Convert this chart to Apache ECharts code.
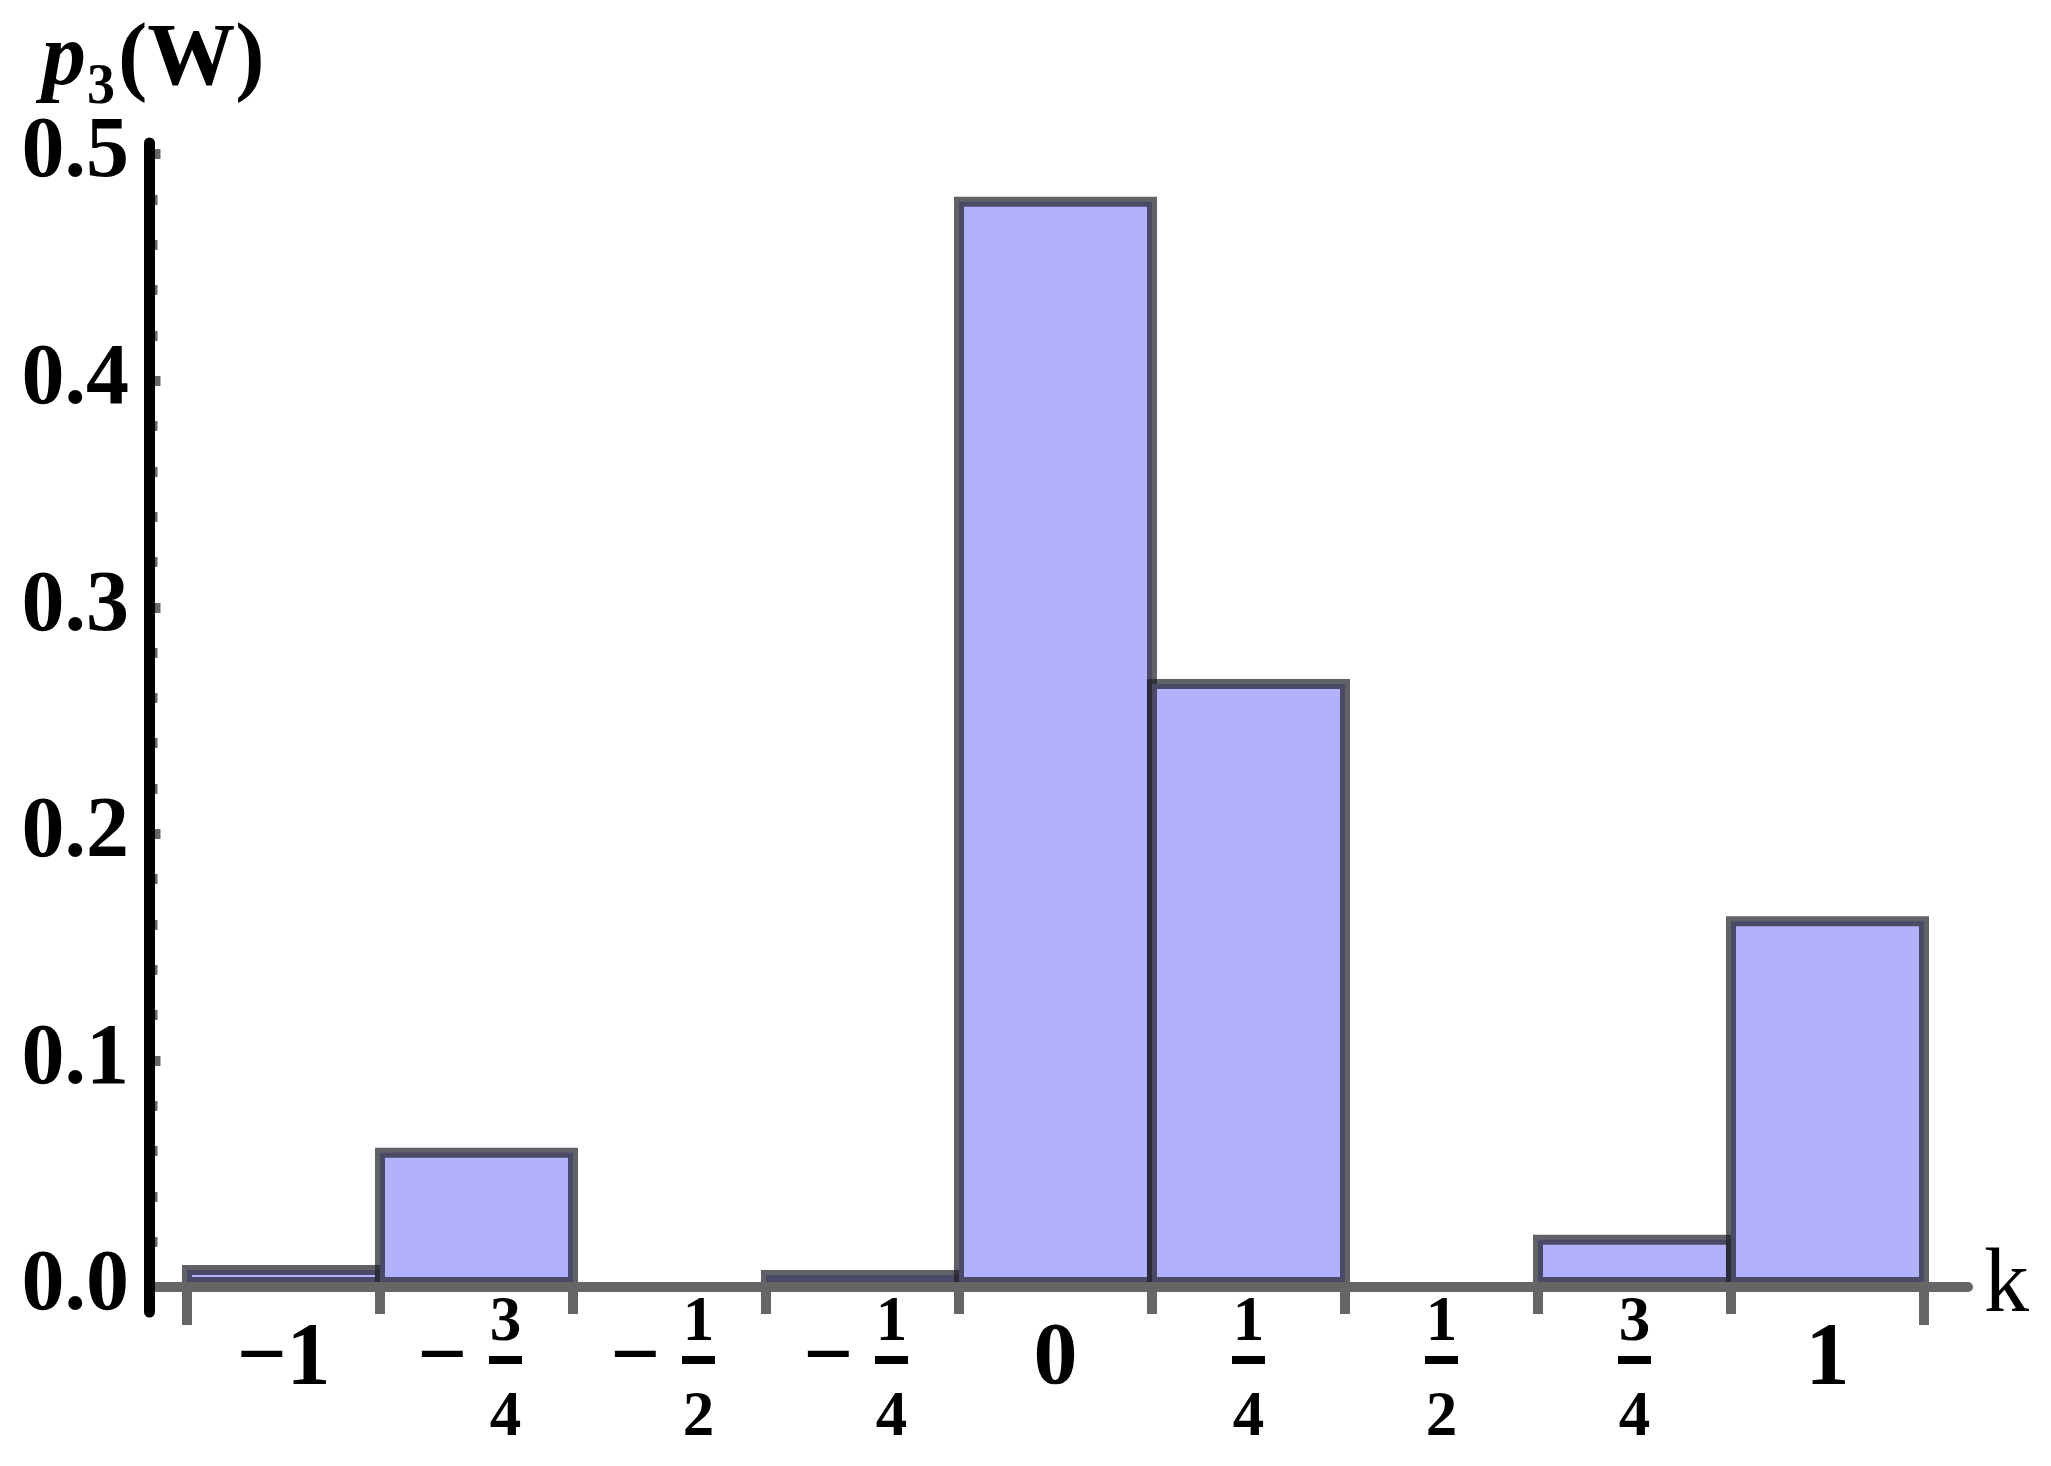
<!DOCTYPE html>
<html>
<head>
<meta charset="utf-8">
<script src="https://cdn.jsdelivr.net/npm/echarts@6/dist/echarts.min.js"></script>
<style>
html, body { margin: 0; padding: 0; background: #ffffff; }
#chart { width: 2051px; height: 1466px; }
</style>
</head>
<body>
<div id="chart"></div>
<script>
// ---- data ----
const kValues = [-1, -0.75, -0.5, -0.25, 0, 0.25, 0.5, 0.75, 1];
const probabilities = [0.0097, 0.0615, 0, 0.0075, 0.4812, 0.2683, 0, 0.0231, 0.1637];
const binWidth = 0.25;
// tick labels of k: sign, numerator, denominator (denominator 1 = whole number)
const kLabelSign = ['\u2212', '\u2212', '\u2212', '\u2212', '', '', '', '', ''];
const kLabelNum = [1, 3, 1, 1, 0, 1, 1, 3, 1];
const kLabelDen = [1, 4, 2, 4, 1, 4, 2, 4, 1];
const yTickValues = [0, 0.1, 0.2, 0.3, 0.4, 0.5];
const yMinorPerMajor = 5;

// ---- derived helpers ----
const binEdges = kValues.map(k => k - binWidth / 2).concat([kValues[kValues.length - 1] + binWidth / 2]);
const innerEdges = binEdges.slice(1, -1);
const outerEdges = [binEdges[0], binEdges[binEdges.length - 1]];
const yMinorValues = [];
for (let i = 0; i < yTickValues.length - 1; i++) {
  const step = (yTickValues[i + 1] - yTickValues[i]) / yMinorPerMajor;
  for (let j = 1; j < yMinorPerMajor; j++) yMinorValues.push(yTickValues[i] + j * step);
}

const FONT = 'Liberation Serif';

function kLabel(v) {
  const i = kValues.findIndex(k => Math.abs(k - v) < 1e-9);
  if (i < 0) return '';
  const s = kLabelSign[i], n = kLabelNum[i], d = kLabelDen[i];
  if (d === 1) return '{e1| }\n{i|' + s + n + '}\n{e3| }';
  if (s) {
    return '{sp| }{g| }{n1|' + n + '}{pad| }\n' +
           '{m|' + s + '}{g| }{fb| }{pad| }\n' +
           '{sp| }{g| }{n3|' + d + '}{pad| }';
  }
  return '{n1|' + n + '}\n{fb| }\n{n3|' + d + '}';
}

const GRID_LEFT = 149, GRID_RIGHT = 83, CHART_W = 2051;
const BORDER = 10;
const xMin = binEdges[0] - 0.0492;
const xMax = binEdges[binEdges.length - 1] + 0.057;
const yMin = -0.011;
const yMax = 0.5049;
const pxPerUnit = (CHART_W - GRID_LEFT - GRID_RIGHT) / (xMax - xMin);

const chart = echarts.init(document.getElementById('chart'), null, { renderer: 'canvas' });

const option = {
  animation: false,
  backgroundColor: '#ffffff',
  title: {
    text: '{p|p}{s|3}{n|(}{w|W}{n|)}',
    left: 42,
    top: 11,
    padding: 0,
    textStyle: {
      rich: {
        p: { fontFamily: FONT, fontStyle: 'italic', fontWeight: 'bold', fontSize: 88, lineHeight: 100, color: '#000' },
        s: { fontFamily: FONT, fontSize: 56, lineHeight: 100, color: '#000', padding: [56, 3, 0, 1] },
        n: { fontFamily: FONT, fontSize: 88, lineHeight: 100, color: '#000' },
        w: { fontFamily: FONT, fontWeight: 'bold', fontSize: 88, lineHeight: 100, color: '#000' }
      }
    }
  },
  grid: {
    left: GRID_LEFT,
    right: GRID_RIGHT,
    top: 143,
    bottom: 154,
    containLabel: false,
    outerBoundsMode: 'none'
  },
  xAxis: [
    {
      type: 'value',
      min: xMin,
      max: xMax,
      position: 'bottom',
      z: 3,
      name: 'k',
      nameLocation: 'end',
      nameGap: 16,
      nameTextStyle: { fontFamily: FONT, fontSize: 90, color: '#000', verticalAlign: 'middle', align: 'left', padding: [12, 0, 0, 0] },
      axisLine: { show: true, onZero: true, lineStyle: { color: '#666666', width: 10 } },
      axisTick: { show: true, customValues: innerEdges, length: 27, lineStyle: { color: '#666666', width: 10 } },
      splitLine: { show: false },
      axisLabel: {
        customValues: kValues,
        formatter: kLabel,
        margin: -11,
        lineHeight: 10,
        color: '#000',
        rich: {
          e1: { lineHeight: 46 },
          e3: { lineHeight: 92 },
          i: { fontFamily: FONT, fontWeight: 'bold', fontSize: 88, lineHeight: 26, color: '#000' },
          m: { fontFamily: FONT, fontWeight: 'bold', fontSize: 88, lineHeight: 26, width: 46, color: '#000' },
          n1: { fontFamily: FONT, fontWeight: 'bold', fontSize: 63, lineHeight: 46, width: 33, color: '#000' },
          n3: { fontFamily: FONT, fontWeight: 'bold', fontSize: 63, lineHeight: 92, width: 33, color: '#000' },
          fb: { width: 33, height: 8, lineHeight: 26, backgroundColor: '#000' },
          sp: { width: 46, lineHeight: 10 },
          g: { width: 24, lineHeight: 10 },
          pad: { width: 12, lineHeight: 10 }
        }
      }
    },
    {
      type: 'value',
      min: xMin,
      max: xMax,
      position: 'bottom',
      z: 3,
      axisLine: { show: false, onZero: true },
      axisTick: { show: true, customValues: outerEdges, length: 38, lineStyle: { color: '#666666', width: 10 } },
      splitLine: { show: false },
      axisLabel: { show: false }
    }
  ],
  yAxis: [
    {
      type: 'value',
      min: yMin,
      max: yMax,
      position: 'left',
      z: 5,
      axisLine: { show: true, onZero: false, lineStyle: { color: '#000000', width: 11 } },
      axisTick: { show: false },
      splitLine: { show: false },
      axisLabel: {
        customValues: yTickValues,
        formatter: v => v.toFixed(1),
        margin: 20,
        fontFamily: FONT,
        fontWeight: 'bold',
        fontSize: 86,
        color: '#000'
      }
    },
    {
      type: 'value',
      min: yMin,
      max: yMax,
      position: 'left',
      z: 4,
      axisLine: { show: false, onZero: false },
      axisTick: { show: true, inside: true, customValues: yTickValues, length: 11.5, lineStyle: { color: '#666666', width: 10 } },
      splitLine: { show: false },
      axisLabel: { show: false }
    },
    {
      type: 'value',
      min: yMin,
      max: yMax,
      position: 'left',
      z: 4,
      axisLine: { show: false, onZero: false },
      axisTick: { show: true, inside: true, customValues: yMinorValues, length: 8.5, lineStyle: { color: '#666666', width: 10 } },
      splitLine: { show: false },
      axisLabel: { show: false }
    }
  ],
  series: [
    {
      type: 'bar',
      xAxisIndex: 0,
      yAxisIndex: 0,
      z: 2,
      barWidth: binWidth * pxPerUnit + BORDER,
      data: kValues.map((k, i) => [k, probabilities[i]]),
      itemStyle: {
        color: '#b2b2fc',
        borderColor: 'rgba(30,30,40,0.7)',
        borderWidth: BORDER
      },
      emphasis: { disabled: true }
    }
  ]
};

chart.setOption(option);
</script>
</body>
</html>
